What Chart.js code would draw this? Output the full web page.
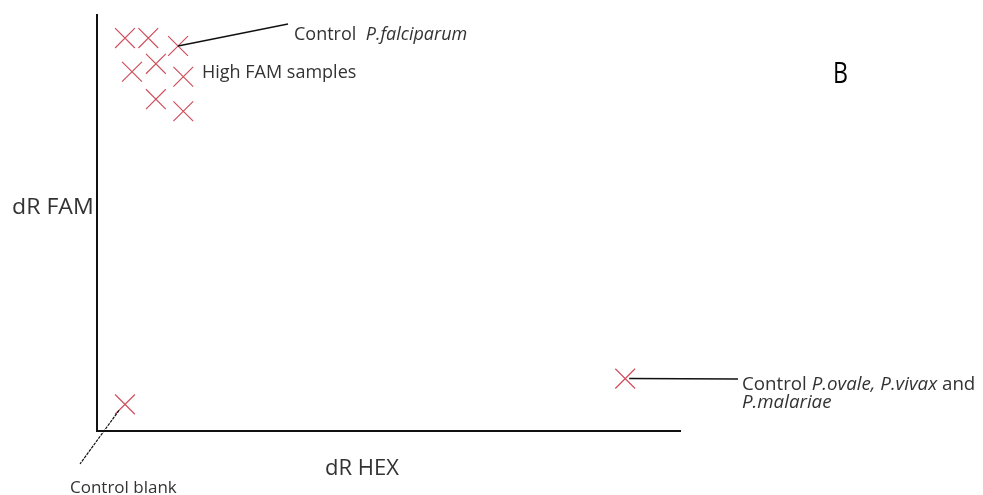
<!DOCTYPE html>
<html>
<head>
<meta charset="utf-8">
<script src="https://cdn.jsdelivr.net/npm/chart.js@4/dist/chart.umd.min.js"></script>
<style>
  html, body { margin: 0; padding: 0; background: #fff; }
  #wrap { width: 983px; height: 495px; }
</style>
</head>
<body>
<div id="wrap"><canvas id="sketch"></canvas></div>
<script>
// data (arbitrary units, 0-100 on both axes)
const hexValues = [4.8, 8.8, 13.9, 6.0, 10.1, 14.8, 10.1, 14.8, 90.6, 4.8];
const famValues = [94.5, 94.5, 92.6, 86.4, 88.3, 85.2, 79.8, 76.9, 12.6, 6.4];
const xTitle = 'dR HEX';
const yTitle = 'dR FAM';
const panelLetter = 'B';

const points = hexValues.map((x, i) => ({ x: x, y: famValues[i] }));

const FONT = '"Open Sans", "Liberation Sans", sans-serif';

// writes a row of normal/italic pieces, optionally stretched sideways
function drawRuns(ctx, runs, x, y, size, sx) {
    sx = sx || 1;
    ctx.save();
    ctx.translate(x, y);
    ctx.scale(sx, 1);
    let cx = 0;
    runs.forEach(r => {
        ctx.font = (r.italic ? 'italic ' : '') + size + 'px ' + FONT;
        ctx.fillText(r.text, cx, 0);
        cx += ctx.measureText(r.text).width;
    });
    ctx.restore();
}

const sketchNotes = {
    id: 'sketchNotes',
    afterDatasetsDraw(chart) {
        const ctx = chart.ctx;
        const xs = chart.scales.x, ys = chart.scales.y;
        const px = i => xs.getPixelForValue(hexValues[i]);
        const py = i => ys.getPixelForValue(famValues[i]);
        ctx.save();
        ctx.strokeStyle = '#111';
        ctx.fillStyle = '#333';
        ctx.textBaseline = 'alphabetic';
        ctx.textAlign = 'left';

        // Control P.falciparum
        ctx.lineWidth = 1.5;
        ctx.beginPath();
        ctx.moveTo(px(2), py(2));
        ctx.lineTo(288, 24);
        ctx.stroke();
        drawRuns(ctx, [{ text: 'Control  ' }, { text: 'P.falciparum', italic: true }], 294, 40, 18);

        // High FAM samples
        drawRuns(ctx, [{ text: 'High FAM samples' }], 202, 78, 18);

        // Control ovale / vivax / malariae
        ctx.beginPath();
        ctx.moveTo(px(8) + 4, py(8));
        ctx.lineTo(738, 379);
        ctx.stroke();
        drawRuns(ctx, [{ text: 'Control ' }, { text: 'P.ovale, P.vivax', italic: true }, { text: ' and' }], 742, 390, 18, 1.04);
        drawRuns(ctx, [{ text: 'P.malariae', italic: true }], 742, 408, 18, 1.04);

        // Control blank
        ctx.lineWidth = 1.2;
        ctx.setLineDash([3, 1]);
        ctx.beginPath();
        ctx.moveTo(px(9) - 6, py(9) + 6);
        ctx.lineTo(80, 464);
        ctx.stroke();
        ctx.setLineDash([]);
        drawRuns(ctx, [{ text: 'Control blank' }], 70, 493, 17);

        // axis titles, written level as in the sketch
        drawRuns(ctx, [{ text: yTitle }], 12, 214, 21, 1.1);
        drawRuns(ctx, [{ text: xTitle }], 325, 475, 22);
        ctx.fillStyle = '#000';
        drawRuns(ctx, [{ text: panelLetter }], 833, 83, 29, 0.8);
        ctx.restore();
    }
};

new Chart(document.getElementById('sketch'), {
    type: 'scatter',
    data: {
        datasets: [{
            data: points,
            pointStyle: 'crossRot',
            pointRadius: 14,
            pointHoverRadius: 14,
            borderWidth: 1.2,
            borderColor: '#d0505e',
            backgroundColor: '#d0505e'
        }]
    },
    options: {
        responsive: true,
        maintainAspectRatio: false,
        animation: false,
        layout: { padding: { left: 89, right: 303, top: 5, bottom: 56 } },
        plugins: { legend: { display: false }, tooltip: { enabled: false } },
        scales: {
            x: {
                min: 0, max: 100,
                ticks: { display: false },
                grid: { display: false },
                border: { display: true, color: '#111', width: 2 }
            },
            y: {
                min: 0, max: 100,
                ticks: { display: false },
                grid: { display: false },
                border: { display: true, color: '#111', width: 2 }
            }
        }
    },
    plugins: [sketchNotes]
});
</script>
</body>
</html>
